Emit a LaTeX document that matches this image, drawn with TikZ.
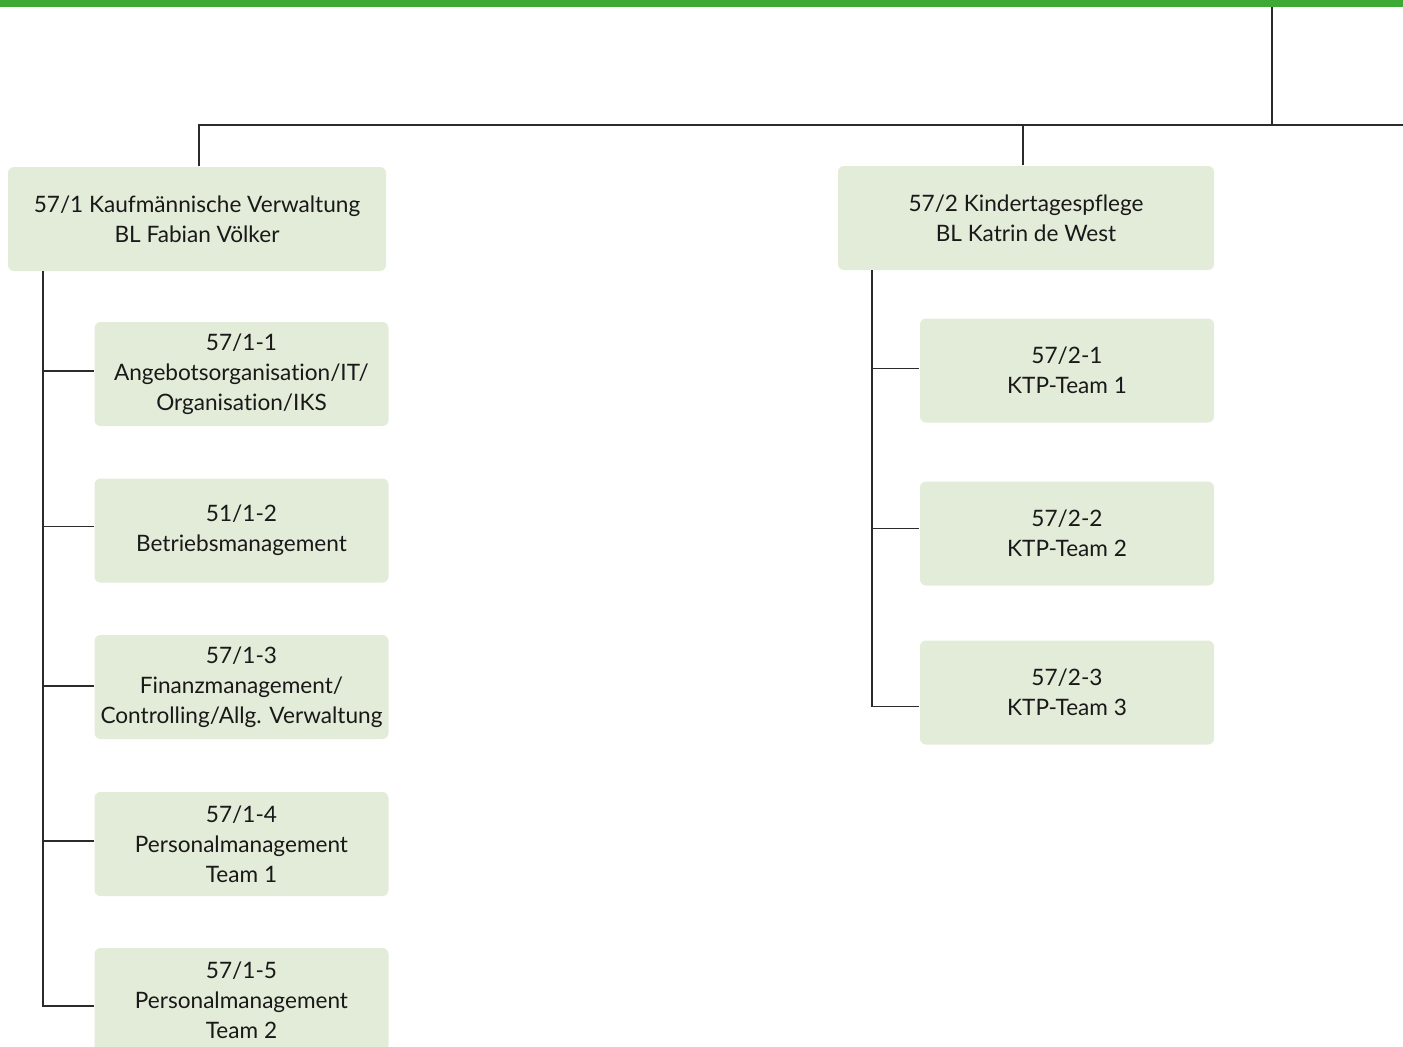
\documentclass[tikz,border=0pt]{standalone}
\usepackage{fontspec}
\setmainfont{Lato}[Ligatures=NoCommon]
\definecolor{bargreen}{HTML}{3DAA35}
\definecolor{boxgreen}{HTML}{E2ECD8}
\definecolor{linegray}{HTML}{2B2B2B}

\begin{document}
\begin{tikzpicture}[x=0.5pt,y=-0.5pt,font=\fontsize{11.3}{15}\selectfont,line width=0.7pt,
  unit/.style={fill=boxgreen,rounded corners=3pt,align=center,inner sep=0pt,text=black!90},
  head/.style={unit,minimum width=189pt,minimum height=52pt},
  team/.style={unit,minimum width=147pt,minimum height=52pt},
  link/.style={draw=linegray}]
\useasboundingbox (0,0) rectangle (1403,1046);
\clip (0,0) rectangle (1403,1046);
\fill[bargreen] (0,0) rectangle (1403,7);
\coordinate (top) at (1272,7);
\coordinate (rgt) at (1403,125);
% Bereichsleitungen
\node[head] (kv) at (197,219) {57/1 Kaufmännische Verwaltung\\BL Fabian Völker};
\node[head,minimum width=188pt] (ktp) at (1026,218) {57/2 Kindertagespflege\\BL Katrin de West};
% Sachgebiete links
\node[team] (kv1) at (241.5,374) {57/1-1\\Angebotsorganisation/IT/\\Organisation/IKS};
\node[team] (kv2) at (241.5,530.5) {51/1-2\\Betriebsmanagement};
\node[team] (kv3) at (241.5,687) {57/1-3\\Finanzmanagement/\\Controlling/Allg. Verwaltung};
\node[team] (kv4) at (241.5,844) {57/1-4\\Personalmanagement\\Team 1};
\node[team] (kv5) at (241.5,1000) {57/1-5\\Personalmanagement\\Team 2};
% Teams rechts
\node[team] (ktp1) at (1067,370.5) {57/2-1\\KTP-Team 1};
\node[team] (ktp2) at (1067,533.5) {57/2-2\\KTP-Team 2};
\node[team] (ktp3) at (1067,692.5) {57/2-3\\KTP-Team 3};
% Verbindungen
\draw[link] (top) -- (top |- rgt);
\draw[link] ([xshift=1pt]kv.north) |- (rgt);
\draw[link] ([xshift=-1.5pt]ktp.north) -- ([xshift=-1.5pt]ktp.north |- rgt);
\coordinate (kvs) at (43,271);
\coordinate (ktps) at (872,270);
\draw[link] (kvs) |- ([yshift=-3pt]kv5.west);
\foreach \n/\s in {kv1/1.5,kv2/2,kv3/0.5,kv4/1.5}{
  \path ([yshift=\s pt]\n.west) coordinate (in);
  \draw[link] (kvs |- in) -- (in);}
\draw[link] (ktps) |- ([yshift=-7pt]ktp3.west);
\foreach \n/\s in {ktp1/1,ktp2/2.5}{
  \path ([yshift=\s pt]\n.west) coordinate (in);
  \draw[link] (ktps |- in) -- (in);}
\end{tikzpicture}
\end{document}
